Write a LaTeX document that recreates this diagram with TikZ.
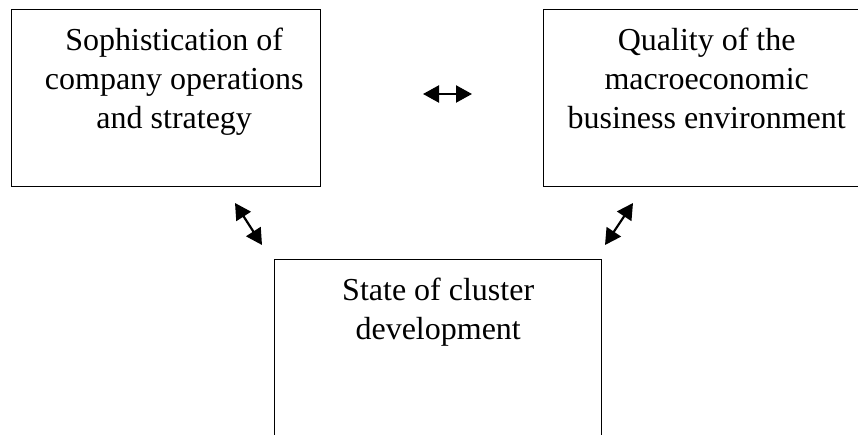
\documentclass[tikz,border=0pt]{standalone}
\usepackage{fontspec}
\setmainfont{Liberation Serif}
\usetikzlibrary{arrows.meta,calc}

\tikzset{
  box/.style={draw=black, line width=1.4pt, rectangle, inner sep=0pt, anchor=north west},
  boxtext/.style={align=center, anchor=north, inner sep=0pt,
    font=\fontsize{32}{39}\selectfont},
  link/.style={line width=2.2pt,
    {Triangle[length=16pt,width=17pt]}-{Triangle[length=16pt,width=17pt]}}
}

\begin{document}
\begin{tikzpicture}[x=1pt,y=1pt]
  \useasboundingbox (0,0) rectangle (858,-435);
  \clip (0,0) rectangle (858,-435);

  % three factor boxes
  \node[box, minimum width=309pt, minimum height=177pt] (ops) at (11,-9) {};
  \node[box, minimum width=326pt, minimum height=177pt] (macro) at (543,-9) {};
  \node[box, minimum width=327pt, minimum height=220pt] (cluster) at (274,-259) {};

  % box captions, hung from the top edge
  \node[boxtext] (opstxt) at ($(ops.north)+(8,-19)$)
    {Sophistication of\\company operations\\and strategy};
  \node[boxtext] (macrotxt) at ($(macro.north)+(0,-19)$)
    {Quality of the\\macroeconomic\\business environment};
  \node[boxtext] (clustertxt) at ($(cluster.north)+(0,-19)$)
    {State of cluster\\development};

  % free ends of the two-way links
  \coordinate (h1) at (423,-94);
  \coordinate (h2) at (472,-94);
  \coordinate (l1) at (235,-203);
  \coordinate (l2) at (262,-245);
  \coordinate (r1) at (633,-203);
  \coordinate (r2) at (605,-245);

  \draw[link] (h1) -- (h2);
  \draw[link] (l1) -- (l2);
  \draw[link] (r1) -- (r2);
\end{tikzpicture}
\end{document}
